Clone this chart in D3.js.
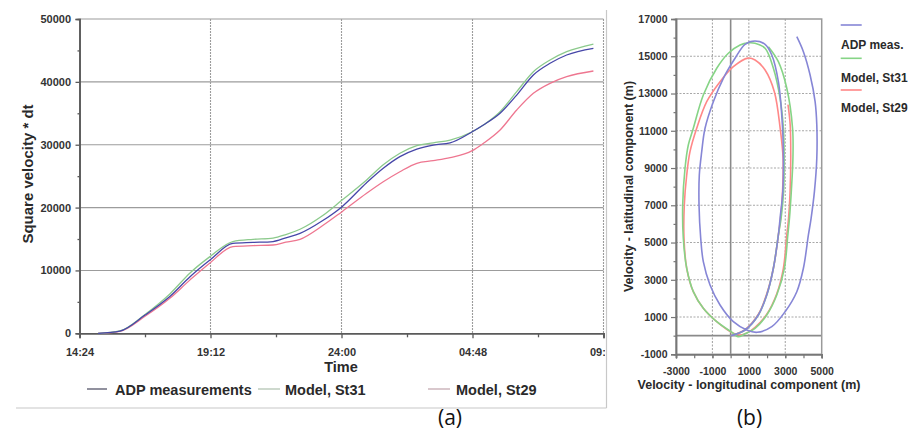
<!DOCTYPE html>
<html><head><meta charset="utf-8">
<script src="https://cdn.jsdelivr.net/npm/d3@7"></script>
<style>
body{margin:0;background:#fff;}
svg{display:block;}
</style>
</head><body>
<svg id="c" width="913" height="434"></svg>
<script>
// ---------- Panel (a) data ----------
const timeTicks = [14.4, 19.2, 24, 28.8, 33.6];
const timeTickLabels = ["14:24", "19:12", "24:00", "04:48", "09:36"];
const timeMinorTicks = [16.8, 21.6, 26.4, 31.2];
const yTicksA = [0, 10000, 20000, 30000, 40000, 50000];
const yMinorA = [5000, 15000, 25000, 35000, 45000];
const hours = [15.08, 15.88, 16.80, 17.72, 18.45, 19.18, 20.02, 20.76, 21.49, 21.96, 22.48, 23.30, 24.02, 24.92, 25.53, 26.14, 26.76, 27.36, 27.98, 28.79, 29.20, 29.81, 30.42, 31.03, 31.64, 32.25, 33.23];
const adpA  = [0, 350, 2900, 5900, 9000, 11650, 14300, 14450, 14600, 15200, 15900, 17900, 20150, 23950, 26250, 28100, 29300, 29950, 30300, 32070, 33140, 35000, 37900, 41100, 42950, 44270, 45340];
const st31A = [0, 380, 3000, 6300, 9600, 12200, 14600, 14950, 15150, 15700, 16550, 18700, 21200, 24400, 26800, 28640, 29850, 30300, 30750, 32070, 33140, 35250, 38440, 41620, 43480, 44800, 46020];
const st29A = [0, 320, 2700, 5600, 8500, 11200, 13800, 13950, 14050, 14500, 14950, 17100, 19350, 22270, 24100, 25700, 27050, 27460, 27940, 29050, 30230, 32340, 35520, 38180, 39770, 40820, 41730];
const legendA = ["ADP measurements", "Model, St31", "Model, St29"];

// ---------- Panel (b) data ----------
const xTicksB = [-3000, -1000, 1000, 3000, 5000];
const xMinorB = [-3000, -2000, -1000, 0, 1000, 2000, 3000, 4000, 5000];
const yTicksB = [-1000, 1000, 3000, 5000, 7000, 9000, 11000, 13000, 15000, 17000];
const yMinorB = [0, 2000, 4000, 6000, 8000, 10000, 12000, 14000, 16000];
const adpLon = [0, 792, 1522, 1984, 2347, 2621, 2715, 2863, 2896, 2841, 2621, 2259, 1891, 1341, 792, 242, -401, -950, -1406, -1588, -1720, -1736, -1643, -1500, -1132, -582, 149, 885, 1450, 2259, 2990, 3633, 3995, 4270, 4418, 4600, 4731, 4731, 4638, 4363, 3995, 3633];
const adpLat = [0, 306, 1111, 2184, 3618, 5405, 6302, 7729, 9522, 11310, 13634, 15068, 15642, 15819, 15642, 14890, 13817, 12561, 11133, 9877, 8626, 7016, 5228, 3972, 2721, 1648, 751, 306, 180, 483, 1288, 2361, 3618, 5405, 6302, 7729, 9522, 11310, 12561, 13994, 15245, 16050];
const st31Lon = [0, 792, 1522, 1984, 2347, 2621, 2770, 2907, 2935, 2896, 2715, 2347, 1891, 1341, 973, 517, -126, -764, -1500, -2049, -2324, -2505, -2632, -2599, -2412, -2049, -1500, -764, 149, 400, 792, 1341, 1984, 2533, 2950, 3140, 3230, 3330, 3420, 3400, 3083, 2621, 2072];
const st31Lat = [0, 306, 1111, 2184, 3618, 5405, 6302, 7729, 9522, 11133, 12743, 14354, 15427, 15696, 15720, 15604, 15159, 14354, 12920, 11133, 10236, 8986, 7016, 5228, 3618, 2361, 1470, 751, 128, -60, 100, 397, 1111, 2184, 3618, 5405, 6302, 7729, 9522, 11133, 13280, 14708, 15513];
const st29Lon = [0, 792, 1522, 1984, 2347, 2621, 2740, 2850, 2880, 2720, 2400, 1891, 1341, 950, 149, -582, -1313, -1863, -2231, -2412, -2544, -2560, -2412, -2049, -1500, -764, 149, 517, 900, 1341, 1984, 2533, 2896, 3083, 3180, 3264, 3300, 3270, 3150];
const st29Lat = [0, 330, 1150, 2250, 3618, 5405, 6302, 7729, 9522, 11133, 13097, 14262, 14799, 14900, 14439, 13634, 12561, 11133, 9877, 8626, 7016, 5228, 3618, 2361, 1470, 751, 128, 37, 150, 450, 1150, 2250, 3618, 5405, 6302, 7729, 9522, 11310, 12400];
const legendB = ["ADP meas.", "Model, St31", "Model, St29"];

const colA = {adp: "#4646a8", st31: "#8cca8c", st29: "#ee7690"};
const colLegA = {adp: "#55556a", st31: "#b4c4b4", st29: "#c4aab2"};
const colB = {adp: "#8686d6", st31: "#86d486", st29: "#ff8888"};

const FONT = "'Liberation Sans', Arial, sans-serif";
const svg = d3.select("#c");
function lab(sel, size) {
  return sel.style("font-family", FONT).style("font-weight", "bold")
    .style("font-size", size + "px").attr("fill", "#2a2a2a");
}
const numFmt = d => String(d);

// ================= Panel (a) =================
const xA = d3.scaleLinear().domain([14.4, 33.6]).range([79.5, 603.5]);
const yA = d3.scaleLinear().domain([0, 50000]).range([333.3, 19]);

const defs = svg.append("defs");
defs.append("clipPath").attr("id", "clipA").append("rect")
  .attr("x", 0).attr("y", 0).attr("width", 605).attr("height", 434);

const gA = svg.append("g").attr("clip-path", "url(#clipA)");

// panel frame lines
svg.append("line").attr("x1", 16).attr("x2", 606.5).attr("y1", 408).attr("y2", 408)
  .attr("stroke", "#c8c8c8").attr("stroke-width", 1.2);
svg.append("line").attr("x1", 606.5).attr("x2", 606.5).attr("y1", 10).attr("y2", 408)
  .attr("stroke", "#c8c8c8").attr("stroke-width", 1.2);

// gridlines
gA.append("g").selectAll("line").data(yTicksA.filter(d => d > 0)).join("line")
  .attr("x1", xA.range()[0]).attr("x2", xA.range()[1])
  .attr("y1", d => yA(d)).attr("y2", d => yA(d))
  .attr("stroke", "#9c9c9c").attr("stroke-width", 1.1);
gA.append("g").selectAll("line").data(timeTicks.slice(1)).join("line")
  .attr("x1", d => xA(d)).attr("x2", d => xA(d))
  .attr("y1", yA.range()[1]).attr("y2", yA.range()[0])
  .attr("stroke", "#9c9c9c").attr("stroke-width", 1.1).attr("stroke-dasharray", "2,1");

// axes
const axYA = gA.append("g").attr("transform", `translate(${xA.range()[0]},0)`)
  .call(d3.axisLeft(yA).tickValues(yTicksA).tickSize(4).tickPadding(4.5).tickFormat(numFmt));
const axYAm = gA.append("g").attr("transform", `translate(${xA.range()[0]},0)`)
  .call(d3.axisLeft(yA).tickValues(yMinorA).tickSize(2).tickFormat(""));
const axXA = gA.append("g").attr("transform", `translate(0,${yA(0)})`)
  .call(d3.axisBottom(xA).tickValues(timeTicks).tickSize(5).tickPadding(10)
    .tickFormat((d, i) => timeTickLabels[i]));
const axXAm = gA.append("g").attr("transform", `translate(0,${yA(0)})`)
  .call(d3.axisBottom(xA).tickValues(timeMinorTicks).tickSize(4).tickFormat(""));
[axYA, axYAm, axXA, axXAm].forEach(a => {
  a.select(".domain").attr("stroke", "#5a5a5a").attr("stroke-width", 1.6);
  a.selectAll(".tick line").attr("stroke", "#5a5a5a").attr("stroke-width", 1.3);
  lab(a.selectAll("text"), 11).attr("fill", "#333");
});

// curves
const lineA = d3.line().x((d, i) => xA(hours[i])).y(d => yA(d)).curve(d3.curveMonotoneX);
[[st29A, colA.st29], [st31A, colA.st31], [adpA, colA.adp]].forEach(([s, c]) => {
  gA.append("path").datum(s).attr("d", lineA).attr("fill", "none")
    .attr("stroke", c).attr("stroke-width", 1.3);
});

// titles
lab(svg.append("text").attr("transform", "translate(32.5,174) rotate(-90)")
  .attr("text-anchor", "middle"), 15).text("Square velocity * dt");
lab(svg.append("text").attr("x", 341).attr("y", 372)
  .attr("text-anchor", "middle"), 14.5).text("Time");

// legend (a)
const legAPos = [{x1: 87, x2: 107, tx: 115, c: colLegA.adp}, {x1: 258, x2: 280, tx: 285, c: colLegA.st31}, {x1: 428, x2: 450, tx: 456, c: colLegA.st29}];
legAPos.forEach((p, i) => {
  svg.append("line").attr("x1", p.x1).attr("x2", p.x2).attr("y1", 389).attr("y2", 389)
    .attr("stroke", p.c).attr("stroke-width", 1.3);
  lab(svg.append("text").attr("x", p.tx).attr("y", 394.5), 14.5).text(legendA[i]);
});

// ================= Panel (b) =================
const xB = d3.scaleLinear().domain([-3000, 5000]).range([676, 821.7]);
const yB = d3.scaleLinear().domain([-1000, 17000]).range([354.3, 19]);
const gB = svg.append("g");

// dotted gridlines
gB.append("g").selectAll("line").data(yTicksB.slice(1, -1)).join("line")
  .attr("x1", xB.range()[0]).attr("x2", xB.range()[1])
  .attr("y1", d => yB(d)).attr("y2", d => yB(d))
  .attr("stroke", "#a8a8a8").attr("stroke-width", 1.1).attr("stroke-dasharray", "2,1.5");
gB.append("g").selectAll("line").data(xTicksB.slice(1, -1)).join("line")
  .attr("x1", d => xB(d)).attr("x2", d => xB(d))
  .attr("y1", yB.range()[1]).attr("y2", yB.range()[0])
  .attr("stroke", "#a8a8a8").attr("stroke-width", 1.1).attr("stroke-dasharray", "2,1.5");
// zero lines
gB.append("line").attr("x1", xB(0)).attr("x2", xB(0)).attr("y1", yB.range()[1]).attr("y2", yB.range()[0])
  .attr("stroke", "#8a8a8a").attr("stroke-width", 1.6);
gB.append("line").attr("x1", xB.range()[0]).attr("x2", xB.range()[1]).attr("y1", yB(0)).attr("y2", yB(0))
  .attr("stroke", "#8a8a8a").attr("stroke-width", 1.6);
// frame
gB.append("rect").attr("x", xB.range()[0]).attr("y", yB.range()[1])
  .attr("width", xB.range()[1] - xB.range()[0]).attr("height", yB.range()[0] - yB.range()[1])
  .attr("fill", "none").attr("stroke", "#9a9a9a").attr("stroke-width", 1.5);

const axYB = gB.append("g").attr("transform", `translate(${xB.range()[0]},0)`)
  .call(d3.axisLeft(yB).tickValues(yTicksB).tickSize(5).tickPadding(3.5).tickFormat(numFmt));
const axYBm = gB.append("g").attr("transform", `translate(${xB.range()[0]},0)`)
  .call(d3.axisLeft(yB).tickValues(yMinorB).tickSize(2.5).tickFormat(""));
const axXB = gB.append("g").attr("transform", `translate(0,${yB.range()[0]})`)
  .call(d3.axisBottom(xB).tickValues(xTicksB).tickSize(4).tickPadding(9).tickFormat(numFmt));
const axXBm = gB.append("g").attr("transform", `translate(0,${yB.range()[0]})`)
  .call(d3.axisBottom(xB).tickValues(xMinorB).tickSize(4).tickFormat(""));
[axYB, axYBm, axXB, axXBm].forEach(a => {
  a.select(".domain").attr("stroke", "#777").attr("stroke-width", 1.5);
  a.selectAll(".tick line").attr("stroke", "#777").attr("stroke-width", 1.2);
  lab(a.selectAll("text"), 10.5).attr("fill", "#333");
});

const lineB = (lon, lat) => d3.line().x((d, i) => xB(lon[i])).y((d, i) => yB(lat[i]))
  .curve(d3.curveCatmullRom.alpha(0.5))(lon);
[[st29Lon, st29Lat, colB.st29], [st31Lon, st31Lat, colB.st31], [adpLon, adpLat, colB.adp]].forEach(([lo, la, c]) => {
  gB.append("path").attr("d", lineB(lo, la)).attr("fill", "none")
    .attr("stroke", c).attr("stroke-width", 1.6);
});

lab(svg.append("text").attr("transform", "translate(633,186.5) rotate(-90)")
  .attr("text-anchor", "middle"), 12.5).text("Velocity - latitudinal component (m)");
lab(svg.append("text").attr("x", 749).attr("y", 389)
  .attr("text-anchor", "middle"), 12.5).text("Velocity - longitudinal component (m)");

// legend (b)
const legBCols = [colB.adp, colB.st31, colB.st29];
const legBLineY = [25, 58.3, 90];
const legBTextY = [49, 82, 112];
legendB.forEach((t, i) => {
  svg.append("line").attr("x1", 840.7).attr("x2", 861.7).attr("y1", legBLineY[i]).attr("y2", legBLineY[i])
    .attr("stroke", legBCols[i]).attr("stroke-width", 1.6);
  lab(svg.append("text").attr("x", 841).attr("y", legBTextY[i]), 12).text(t);
});

// panel captions
svg.append("text").attr("x", 450).attr("y", 425).attr("text-anchor", "middle")
  .style("font-family", "'Open Sans', sans-serif").style("font-size", "21px").attr("fill", "#111").text("(a)");
svg.append("text").attr("x", 749.5).attr("y", 425).attr("text-anchor", "middle")
  .style("font-family", "'Open Sans', sans-serif").style("font-size", "21px").attr("fill", "#111").text("(b)");
</script>
</body></html>
